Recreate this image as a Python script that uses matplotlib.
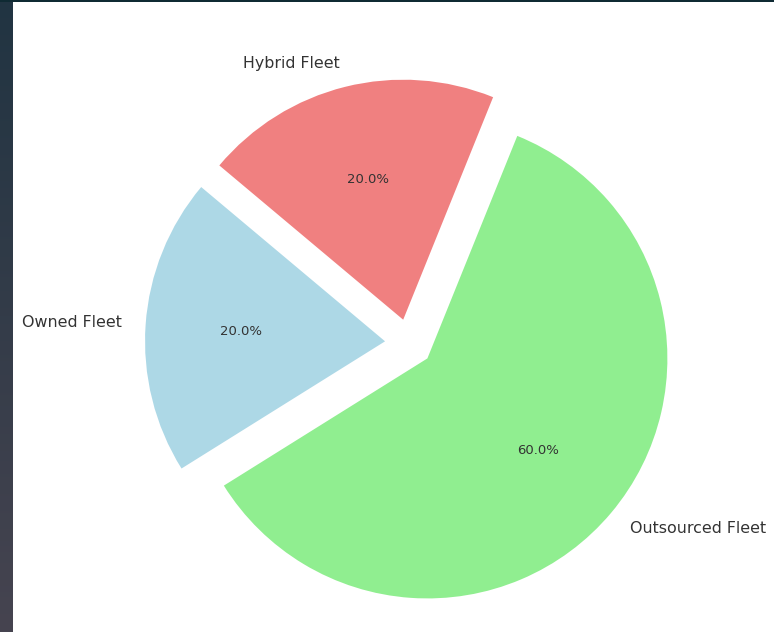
import matplotlib
matplotlib.use("Agg")
import matplotlib.pyplot as plt
import numpy as np
from matplotlib.patches import Rectangle

labels = ['Owned Fleet', 'Outsourced Fleet', 'Hybrid Fleet']
shares = [20, 60, 20]
colors = ['lightblue', 'lightgreen', 'lightcoral']
explode = (0.1, 0.1, 0.1)

W, H = 774, 632
fig = plt.figure(figsize=(W / 100, H / 100), dpi=100)

# pie axes: radius 1 -> 240 px, centre at (409, 343) px from top-left
cx, cy, r = 409, 343, 240
size = 2.5 * r
ax = fig.add_axes([(cx - size / 2) / W, (H - cy - size / 2) / H, size / W, size / H])

wedges, texts, autotexts = ax.pie(
    shares, labels=labels, colors=colors, explode=explode,
    autopct='%1.1f%%', startangle=140,
    textprops={'fontsize': 11.4, 'color': '#333333'})
for t in autotexts:
    t.set_fontsize(9.5)
ax.set_xlim(-1.25, 1.25)
ax.set_ylim(-1.25, 1.25)
ax.set_aspect('equal')

# dark page edge on the left and along the top
side = fig.add_axes([0, 0, 13 / W, 1])
grad = np.linspace(0, 1, 256)[:, None, None]
top_c = np.array([33, 52, 66]) / 255
bot_c = np.array([70, 68, 80]) / 255
side.imshow(top_c * (1 - grad) + bot_c * grad, aspect='auto', extent=[0, 1, 1, 0])
side.set_axis_off()
fig.patches.append(Rectangle((0, 1 - 2 / H), 1, 2 / H, transform=fig.transFigure,
                             facecolor='#0f2a33', edgecolor='none'))

fig.savefig('out.png', dpi=100)
